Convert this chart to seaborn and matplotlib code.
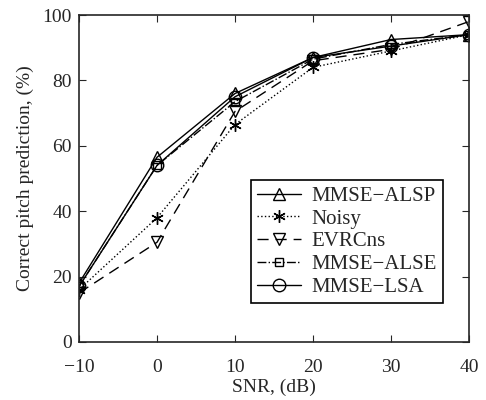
import pandas as pd
import matplotlib
matplotlib.use("Agg")
import matplotlib.pyplot as plt
import seaborn as sns

# данные
snr = [-10, 0, 10, 20, 30, 40]
mmseAlsp = [18, 56.5, 76, 87, 92.5, 94]
noisy = [16, 38, 66.5, 84, 89, 94]
evrcns = [15, 30.5, 70.5, 86, 89.5, 98]
mmseAlse = [17, 54, 73.5, 86.5, 91, 94]
mmseLsa = [17, 54, 75, 87, 90.5, 94]

sns.set_style("ticks")
plt.rcParams['font.family'] = ['Liberation Serif', 'DejaVu Serif']

fig = plt.figure(figsize=(4.86, 4.0), dpi=100)
ax = fig.add_axes([0.1626, 0.145, 0.8024, 0.8175])

series = [
    ("MMSE\u2212ALSP", mmseAlsp, '-', '^', 9),
    ("Noisy", noisy, ':', (6, 2, 0), 9),
    ("EVRCns", evrcns, (0, (8, 5)), 'v', 9),
    ("MMSE\u2212ALSE", mmseAlse, '-.', 's', 6),
    ("MMSE\u2212LSA", mmseLsa, '-', 'o', 9),
]
for name, vals, ls, mk, ms in series:
    df = pd.DataFrame({'SNR': snr, 'val': vals})
    sns.lineplot(data=df, x='SNR', y='val', ax=ax, color='black', linestyle=ls,
                 marker=mk, markersize=ms, markerfacecolor='none',
                 markeredgecolor='black', markeredgewidth=1.0, linewidth=1.0,
                 label=name)

ax.set_xlim(-10, 40)
ax.set_ylim(0, 100)
ax.set_xticks([-10, 0, 10, 20, 30, 40])
ax.set_xticklabels(['\u221210', '0', '10', '20', '30', '40'])
ax.set_yticks([0, 20, 40, 60, 80, 100])
ax.tick_params(direction='in', top=True, right=True, labelsize=14, length=5, width=0.8)
ax.tick_params(axis='x', pad=12)
ax.tick_params(axis='y', pad=5)
for sp in ax.spines.values():
    sp.set_linewidth(1.2)
    sp.set_visible(True)
ax.set_xlabel("SNR, (dB)", fontsize=14, labelpad=2)
ax.set_ylabel("Correct pitch prediction, (%)", fontsize=14, labelpad=6)

leg = ax.legend(loc='lower right', bbox_to_anchor=(0.933, 0.119), fontsize=15,
                frameon=True, fancybox=False, edgecolor='black', framealpha=1,
                handlelength=2.1, borderpad=0.3, labelspacing=0.15, handletextpad=0.5,
                borderaxespad=0)
leg.get_frame().set_linewidth(1.2)

fig.savefig("out.png", dpi=100)
